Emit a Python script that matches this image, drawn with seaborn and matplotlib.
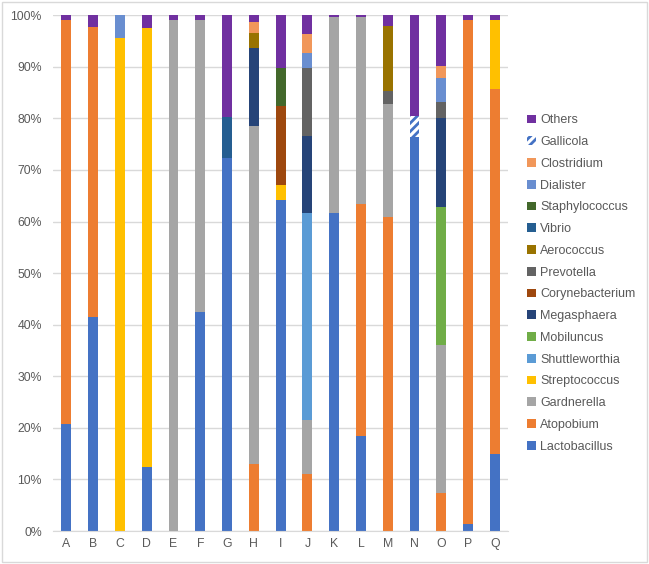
import pandas as pd
import matplotlib.pyplot as plt
import seaborn as sns
from matplotlib.patches import Patch, Rectangle
from matplotlib.ticker import PercentFormatter

samples = list("ABCDEFGHIJKLMNOPQ")

# stacked bottom -> top, percent of reads
lactobacillus   = [20.7, 41.4, 0, 12.5, 0, 42.5, 72.3, 0, 64.2, 0, 61.7, 18.5, 0, 76.4, 0, 1.4, 15.0]
atopobium       = [78.4, 56.4, 0, 0, 0, 0, 0, 13.0, 0, 11.1, 0, 44.9, 60.8, 0, 7.3, 97.6, 70.7]
gardnerella     = [0, 0, 0, 0, 99.1, 56.6, 0, 65.5, 0, 10.5, 37.9, 36.3, 21.9, 0, 28.8, 0, 0]
streptococcus   = [0, 0, 95.6, 85.1, 0, 0, 0, 0, 2.8, 0, 0, 0, 0, 0, 0, 0, 13.3]
shuttleworthia  = [0, 0, 0, 0, 0, 0, 0, 0, 0, 40.0, 0, 0, 0, 0, 0, 0, 0]
mobiluncus      = [0, 0, 0, 0, 0, 0, 0, 0, 0, 0, 0, 0, 0, 0, 26.7, 0, 0]
megasphaera     = [0, 0, 0, 0, 0, 0, 0, 15.1, 0, 15.0, 0, 0, 0, 0, 17.2, 0, 0]
corynebacterium = [0, 0, 0, 0, 0, 0, 0, 0, 15.4, 0, 0, 0, 0, 0, 0, 0, 0]
prevotella      = [0, 0, 0, 0, 0, 0, 0, 0, 0, 13.2, 0, 0, 2.7, 0, 3.2, 0, 0]
aerococcus      = [0, 0, 0, 0, 0, 0, 0, 2.9, 0, 0, 0, 0, 12.6, 0, 0, 0, 0]
vibrio          = [0, 0, 0, 0, 0, 0, 7.9, 0, 0, 0, 0, 0, 0, 0, 0, 0, 0]
staphylococcus  = [0, 0, 0, 0, 0, 0, 0, 0, 7.3, 0, 0, 0, 0, 0, 0, 0, 0]
dialister       = [0, 0, 4.4, 0, 0, 0, 0, 0, 0, 2.9, 0, 0, 0, 0, 4.6, 0, 0]
clostridium     = [0, 0, 0, 0, 0, 0, 0, 2.2, 0, 3.6, 0, 0, 0, 0, 2.4, 0, 0]
gallicola       = [0, 0, 0, 0, 0, 0, 0, 0, 0, 0, 0, 0, 0, 4.1, 0, 0, 0]
others          = [0.9, 2.2, 0, 2.4, 0.9, 0.9, 19.8, 1.3, 10.3, 3.7, 0.4, 0.3, 2.0, 19.5, 9.8, 1.0, 1.0]

genera = ["Lactobacillus", "Atopobium", "Gardnerella", "Streptococcus", "Shuttleworthia",
          "Mobiluncus", "Megasphaera", "Corynebacterium", "Prevotella", "Aerococcus",
          "Vibrio", "Staphylococcus", "Dialister", "Clostridium", "Gallicola", "Others"]
values = [lactobacillus, atopobium, gardnerella, streptococcus, shuttleworthia,
          mobiluncus, megasphaera, corynebacterium, prevotella, aerococcus,
          vibrio, staphylococcus, dialister, clostridium, gallicola, others]
colors = ["#4472C4", "#ED7D31", "#A5A5A5", "#FFC000", "#5B9BD5",
          "#70AD47", "#264478", "#9E480E", "#636363", "#997300",
          "#255E91", "#43682B", "#698ED0", "#F1975A", "#4472C4", "#7030A0"]

df = pd.DataFrame(dict(zip(genera, values)), index=samples)
cum = df.cumsum(axis=1)

sns.set_style("white")
plt.rcParams["font.family"] = ["Liberation Sans", "DejaVu Sans"]
plt.rcParams["hatch.linewidth"] = 2.0

fig = plt.figure(figsize=(6.49, 5.64), dpi=100)
ax = fig.add_axes([0.0817, 0.0585, 0.7013, 0.9145])

# draw cumulative bars from the top layer down so each lower layer covers the rest
for name, col in reversed(list(zip(genera, colors))):
    d = pd.DataFrame({"sample": samples, "top": cum[name].values})
    if name == "Gallicola":
        sns.barplot(data=d, x="sample", y="top", ax=ax, width=0.37, errorbar=None,
                    color="white", edgecolor=col, hatch="////", linewidth=0, saturation=1)
    else:
        sns.barplot(data=d, x="sample", y="top", ax=ax, width=0.37, errorbar=None,
                    color=col, linewidth=0, saturation=1)

ax.set_ylim(0, 100)
ax.set_xlim(-0.5, 16.5)
ax.set_yticks(range(0, 101, 10))
ax.yaxis.set_major_formatter(PercentFormatter(decimals=0))
ax.grid(axis="y", color="#D9D9D9", linewidth=1)
ax.set_axisbelow(True)
ax.set_xlabel("")
ax.set_ylabel("")
for s in ["top", "right", "left"]:
    ax.spines[s].set_visible(False)
ax.spines["bottom"].set_color("#D9D9D9")
ax.tick_params(axis="both", length=0, colors="#595959", labelsize=8.8)
ax.tick_params(axis="y", pad=8)
ax.tick_params(axis="x", pad=5)

handles = []
for name, col in zip(genera, colors):
    if name == "Gallicola":
        handles.append(Patch(facecolor="white", edgecolor=col, hatch="////", linewidth=0, label=name))
    else:
        handles.append(Patch(facecolor=col, linewidth=0, label=name))
handles = handles[::-1]
leg = fig.legend(handles=handles, loc="upper left", bbox_to_anchor=(0.805, 0.806),
                 frameon=False, fontsize=9, handlelength=0.7, handleheight=0.7,
                 handletextpad=0.3, labelspacing=0.78, borderaxespad=0)
for t in leg.get_texts():
    t.set_color("#595959")

fig.patches.append(Rectangle((0.003, 0.003), 0.994, 0.994, transform=fig.transFigure,
                             fill=False, edgecolor="#D9D9D9", linewidth=1))

fig.savefig("out.png", dpi=100)
